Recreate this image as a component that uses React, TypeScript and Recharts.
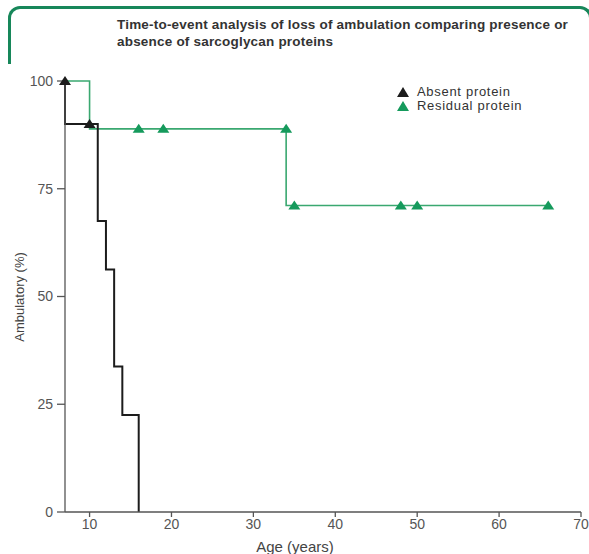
import { Line, LineChart, XAxis, YAxis } from "recharts";

// Kaplan-Meier style curves
const absentAge = [7, 7, 10, 11, 12, 13, 14, 16];
const absentPct = [100, 90, 90, 67.5, 56.25, 33.75, 22.5, 0];
const absentCensored = [true, false, true, false, false, false, false, false];

const residualAge = [7, 10, 16, 19, 34, 34, 35, 48, 50, 66];
const residualPct = [100, 88.9, 88.9, 88.9, 88.9, 71.1, 71.1, 71.1, 71.1, 71.1];
const residualCensored = [false, false, true, true, true, false, true, true, true, true];

const xTicks = [10, 20, 30, 40, 50, 60, 70];
const yTicks = [0, 25, 50, 75, 100];

const absentData = absentAge.map((x, i) => ({ x, y: absentPct[i], mark: absentCensored[i] }));
const residualData = residualAge.map((x, i) => ({ x, y: residualPct[i], mark: residualCensored[i] }));

const BLACK = "#1c1c1c";
const GREEN = "#159a5c";
const GREEN_LINE = "#3aa870";

const makeTriangle = (fill: string) => (props: any) => {
  const { cx, cy, payload, index } = props;
  if (!payload || !payload.mark) return <g key={`e-${index}`} />;
  return (
    <path
      key={`t-${index}`}
      d={`M${cx},${cy - 5} L${cx + 6},${cy + 4} L${cx - 6},${cy + 4} Z`}
      fill={fill}
    />
  );
};

const font = "'Liberation Sans', Arial, sans-serif";

const App = () => {
  return (
    <div
      style={{
        position: "absolute",
        left: 0,
        top: 0,
        width: 589,
        height: 554,
        overflow: "hidden",
        background: "#fff",
        fontFamily: font,
      }}
    >
      <div
        style={{
          position: "absolute",
          left: 8,
          top: 6,
          width: 584,
          height: 58,
          boxSizing: "border-box",
          borderTop: "3px solid #17875a",
          borderLeft: "3px solid #17875a",
          borderRight: "3px solid #17875a",
          borderRadius: "12px 12px 0 0",
        }}
      />
      <div
        style={{
          position: "absolute",
          left: 117,
          top: 16,
          fontSize: 13.5,
          fontWeight: "bold",
          lineHeight: "17px",
          letterSpacing: 0.2,
          color: "#333",
          whiteSpace: "nowrap",
        }}
      >
        Time-to-event analysis of loss of ambulation comparing presence or
        <br />
        absence of sarcoglycan proteins
      </div>

      <div style={{ position: "absolute", left: 0, top: 0 }}>
        <LineChart
          width={589}
          height={554}
          margin={{ top: 81, right: 8, bottom: 0, left: 0 }}
        >
          <XAxis
            type="number"
            dataKey="x"
            domain={[7, 70]}
            ticks={xTicks}
            height={42}
            tickSize={5}
            tickMargin={2}
            stroke="#555"
            strokeWidth={1.3}
            tick={{ fill: "#555", fontSize: 14, fontFamily: font }}
          />
          <YAxis
            type="number"
            dataKey="y"
            domain={[0, 100]}
            ticks={yTicks}
            width={65}
            tickSize={8}
            tickMargin={4}
            stroke="#555"
            strokeWidth={1.3}
            tick={{ fill: "#555", fontSize: 14, fontFamily: font }}
          />
          <Line
            data={residualData}
            dataKey="y"
            type="stepAfter"
            stroke={GREEN_LINE}
            strokeWidth={1.6}
            dot={makeTriangle(GREEN)}
            activeDot={false}
            isAnimationActive={false}
          />
          <Line
            data={absentData}
            dataKey="y"
            type="stepAfter"
            stroke={BLACK}
            strokeWidth={2}
            dot={makeTriangle(BLACK)}
            activeDot={false}
            isAnimationActive={false}
          />
        </LineChart>
      </div>

      <div
        style={{
          position: "absolute",
          left: 19,
          top: 297,
          transform: "translate(-50%, -50%) rotate(-90deg)",
          fontSize: 13,
          color: "#444",
          whiteSpace: "nowrap",
        }}
      >
        Ambulatory (%)
      </div>
      <div
        style={{
          position: "absolute",
          left: 295,
          top: 539,
          transform: "translateX(-50%)",
          fontSize: 15,
          lineHeight: "15px",
          color: "#444",
          whiteSpace: "nowrap",
        }}
      >
        Age (years)
      </div>

      <div
        style={{
          position: "absolute",
          left: 396,
          top: 85,
          fontSize: 13,
          lineHeight: "14px",
          letterSpacing: 0.7,
          color: "#333",
        }}
      >
        {[
          { name: "Absent protein", color: BLACK },
          { name: "Residual protein", color: GREEN },
        ].map((item) => (
          <div key={item.name} style={{ display: "flex", alignItems: "center", height: 14 }}>
            <svg width={14} height={12} style={{ marginRight: 7 }}>
              <path d="M7,1 L13,11 L1,11 Z" fill={item.color} />
            </svg>
            <span style={{ lineHeight: "14px" }}>{item.name}</span>
          </div>
        ))}
      </div>
    </div>
  );
};

export default App;
